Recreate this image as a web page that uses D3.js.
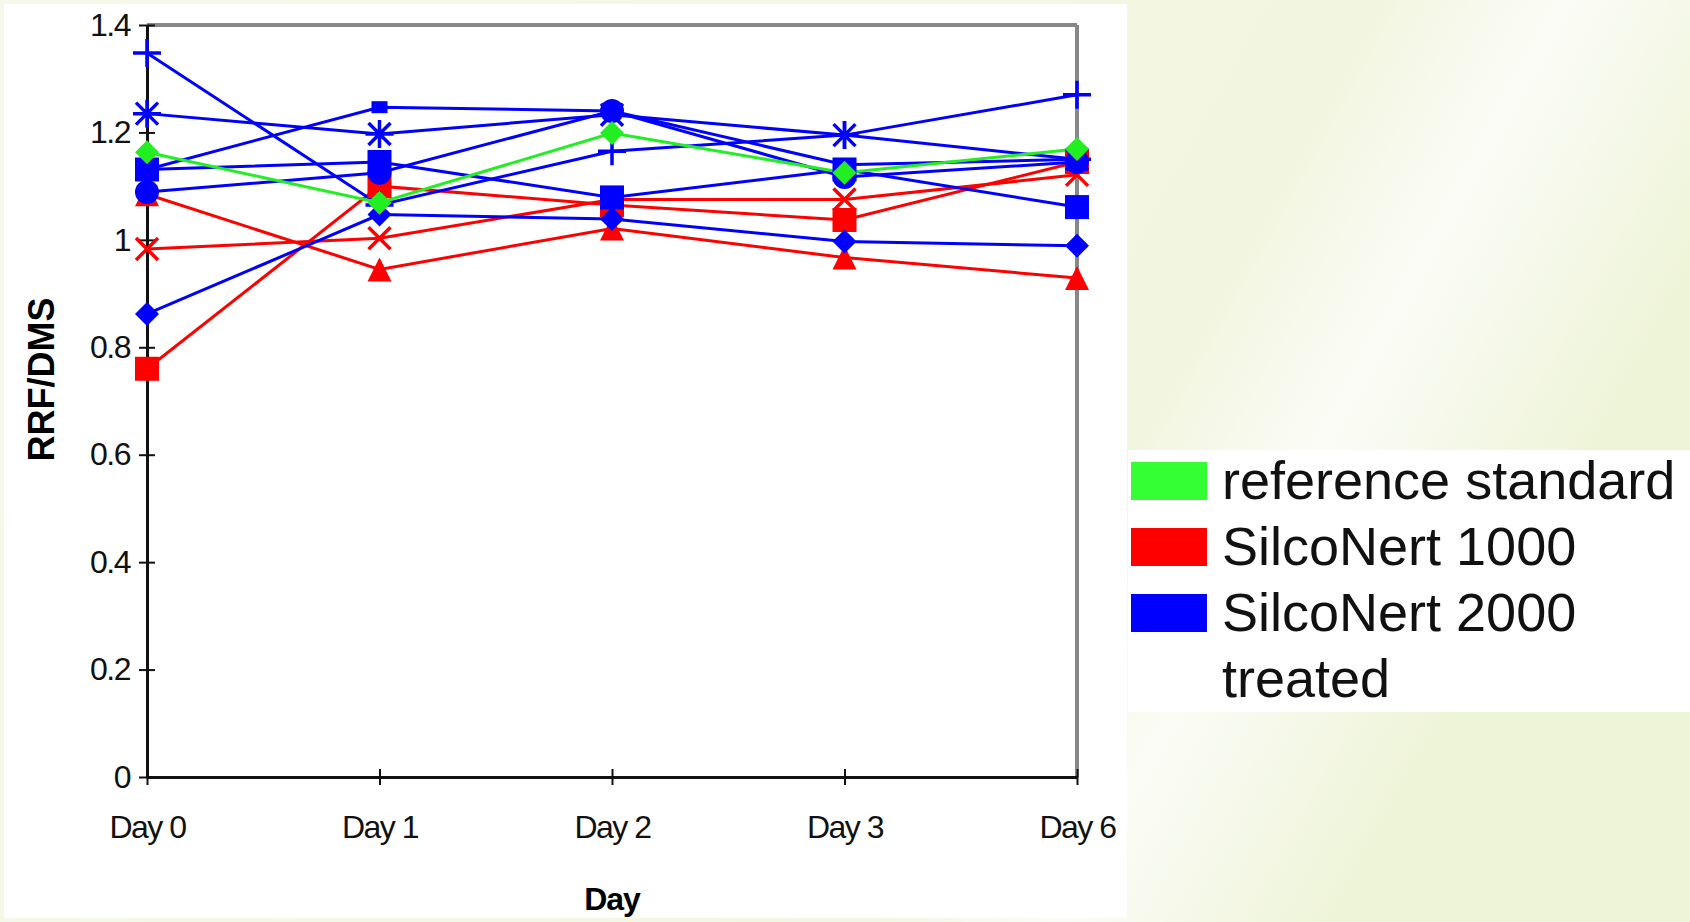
<!DOCTYPE html><html><head><meta charset="utf-8">
<script src="https://cdn.jsdelivr.net/npm/d3@7"></script>
<style>body{margin:0;overflow:hidden}</style></head><body>
<svg id="c" width="1690" height="922"></svg>
<script>
const days=["Day 0","Day 1","Day 2","Day 3","Day 6"];
const yTicks=[0,0.2,0.4,0.6,0.8,1,1.2,1.4];
const legendLabels=[["reference standard"],["SilcoNert 1000"],["SilcoNert 2000","treated"]];
const legendColors=["#33ff33","#ff0000","#0000ff"];
const refDiamond=[1.163,1.069,1.199,1.125,1.169];
const s1000Square=[0.76,1.10,1.065,1.037,1.145];
const s1000X=[0.983,1.003,1.075,1.075,1.121];
const s1000Tri=[1.085,0.945,1.021,0.967,0.929];
const s2000Plus=[1.348,1.065,1.165,1.195,1.27];
const s2000Star=[1.235,1.197,1.233,1.195,1.15];
const s2000SmallSq=[1.131,1.247,1.24,1.14,1.15];
const s2000BigSq=[1.131,1.145,1.079,1.131,1.061];
const s2000Circle=[1.089,1.125,1.24,1.117,1.145];
const s2000Diamond=[0.862,1.047,1.039,0.997,0.989];
const series=[
 {v:s1000Square,c:"#ff0000",m:"bigsq"},{v:s1000X,c:"#ff0000",m:"x"},{v:s1000Tri,c:"#ff0000",m:"tri"},
 {v:s2000Plus,c:"#0000ff",m:"plus"},{v:s2000Star,c:"#0000ff",m:"star"},{v:s2000SmallSq,c:"#0000ff",m:"smsq"},
 {v:s2000BigSq,c:"#0000ff",m:"bigsq"},{v:s2000Circle,c:"#0000ff",m:"circle"},{v:s2000Diamond,c:"#0000ff",m:"diamond"},
 {v:refDiamond,c:"#22ee22",m:"diamond"}];
const svg=d3.select("#c");
const defs=svg.append("defs");
const g=defs.append("linearGradient").attr("id","bg").attr("x1",0).attr("y1",0).attr("x2",1).attr("y2",0.3);
g.append("stop").attr("offset","0").attr("stop-color","#f6f9ea");
g.append("stop").attr("offset","0.75").attr("stop-color","#f2f6e0");
g.append("stop").attr("offset","0.85").attr("stop-color","#fbfcf6");
g.append("stop").attr("offset","1").attr("stop-color","#eef4d8");
svg.append("rect").attr("width",1690).attr("height",922).attr("fill","url(#bg)");
svg.append("rect").attr("x",4).attr("y",4).attr("width",1123).attr("height",914).attr("fill","#fff");
svg.append("rect").attr("x",1128).attr("y",450).attr("width",562).attr("height",262).attr("fill","#fff");
const L=147,R=1077,T=25,B=777;
const x=d3.scalePoint().domain(days).range([L,R]);
const y=d3.scaleLinear().domain([0,1.4]).range([B,T]);
svg.append("line").attr("x1",L).attr("x2",R).attr("y1",T).attr("y2",T).attr("stroke","#888").attr("stroke-width",4);
svg.append("line").attr("x1",R).attr("x2",R).attr("y1",T).attr("y2",B).attr("stroke","#888").attr("stroke-width",4);
const ya=svg.append("g").attr("transform",`translate(${L},0)`).call(d3.axisLeft(y).tickValues(yTicks).tickFormat(d=>d3.format("")(+d.toFixed(1))).tickSize(8).tickSizeOuter(0));
const xa=svg.append("g").attr("transform",`translate(0,${B})`).call(d3.axisBottom(x).tickSize(10).tickSizeOuter(0));
[ya,xa].forEach(a=>{a.select(".domain").attr("stroke","#111").attr("stroke-width",3);a.selectAll(".tick line").attr("stroke","#111").attr("stroke-width",2);
 a.selectAll("text").attr("font-family","Liberation Sans, Arial").attr("font-size",32).attr("fill","#111").attr("letter-spacing",-1.5);});
ya.selectAll(".tick line").attr("x1",-8).attr("x2",8);
ya.selectAll("text").attr("dx",-6);
xa.selectAll("text").attr("dy",48);
xa.selectAll(".tick line").attr("y1",-8).attr("y2",8);
svg.append("text").attr("x",612).attr("y",910).attr("text-anchor","middle").attr("font-family","Liberation Sans, Arial").attr("font-weight","bold").attr("font-size",32).attr("letter-spacing",-1).text("Day");
svg.append("text").attr("transform",`translate(54,${y(0.74)}) rotate(-90)`).attr("text-anchor","middle").attr("font-family","Liberation Sans, Arial").attr("font-weight","bold").attr("font-size",36).text("RRF/DMS");
const line=d3.line().x((d,i)=>x(days[i])).y(d=>y(d));
series.forEach(s=>{
 svg.append("path").attr("d",line(s.v)).attr("fill","none").attr("stroke",s.c).attr("stroke-width",3);
});
series.forEach(s=>{
 s.v.forEach((d,i)=>{
  const cx=x(days[i]),cy=y(d),c=s.c,gg=svg.append("g").attr("transform",`translate(${cx},${cy})`);
  const k=12;
  if(s.m==="bigsq")gg.append("rect").attr("x",-k).attr("y",-k).attr("width",2*k).attr("height",2*k).attr("fill",c);
  else if(s.m==="smsq")gg.append("rect").attr("x",-8).attr("y",-6).attr("width",16).attr("height",12).attr("fill",c);
  else if(s.m==="circle")gg.append("circle").attr("r",k).attr("fill",c);
  else if(s.m==="diamond")gg.append("path").attr("d",`M0,${-k}L${k},0L0,${k}L${-k},0Z`).attr("fill",c);
  else if(s.m==="tri")gg.append("path").attr("d",`M0,${-k}L${k},${k}L${-k},${k}Z`).attr("fill",c);
  else {
   let p="";
   if(s.m==="plus"||s.m==="star")p+=`M0,-14V14M-14,0H14`;
   if(s.m==="x"||s.m==="star")p+=`M-11,-11L11,11M-11,11L11,-11`;
   gg.append("path").attr("d",p).attr("stroke",c).attr("stroke-width",3.5);
  }
 });
});
const lg=svg.append("g");
legendLabels.forEach((lab,i)=>{
 const yy=480+i*66;
 lg.append("rect").attr("x",1131).attr("y",yy-18).attr("width",76).attr("height",38).attr("fill",legendColors[i]);
 lab.forEach((t,j)=>lg.append("text").attr("x",1222).attr("y",yy+19+j*66).attr("font-family","Liberation Sans, Arial").attr("font-size",54).attr("fill","#111").text(t));
});
</script></body></html>
